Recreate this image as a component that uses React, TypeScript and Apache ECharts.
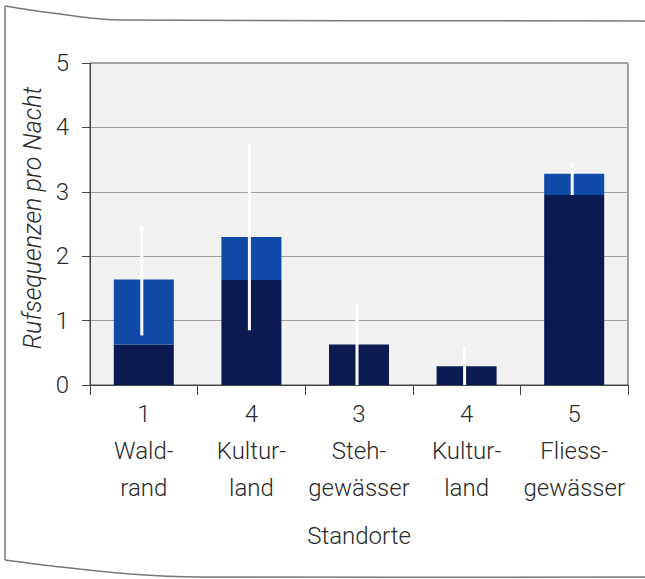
import React, { useEffect, useRef } from "react";
import * as echarts from "echarts";

const siteNumbers = ["1", "4", "3", "4", "5"];
const siteNames = ["Wald-\nrand", "Kultur-\nland", "Steh-\ngewässer", "Kultur-\nland", "Fliess-\ngewässer"];
const lowerSegment = [0.63, 1.63, 0.63, 0.29, 2.95];
const upperSegment = [1.01, 0.67, 0, 0, 0.33];
const errorLow = [0.77, 0.85, 0, 0, 2.95];
const errorHigh = [2.48, 3.75, 1.25, 0.6, 3.45];
const yTicks = [0, 1, 2, 3, 4, 5];

const FONT = "Roboto, 'Liberation Sans', Arial, sans-serif";

export default function App() {
  const ref = useRef<HTMLDivElement>(null);
  useEffect(() => {
    if (!ref.current) return;
    const chart = echarts.init(ref.current, null, { renderer: "svg" });
    const categories = siteNumbers.map((n, i) => n + "\n" + siteNames[i]);
    const errData = errorLow.map((lo, i) => [i, lo, errorHigh[i]]);
    chart.setOption({
      animation: false,
      backgroundColor: "#ffffff",
      textStyle: { fontFamily: FONT },
      grid: {
        left: 90,
        top: 63,
        width: 538,
        height: 322,
        show: true,
        backgroundColor: "#f1f1f1",
        borderColor: "#4a4a4a",
        borderWidth: 1,
      },
      xAxis: {
        type: "category",
        data: categories,
        name: "Standorte",
        nameLocation: "middle",
        nameGap: 139,
        nameTextStyle: { fontSize: 24, color: "#2a2a2a", fontWeight: 300, fontFamily: FONT },
        axisLine: { show: true, lineStyle: { color: "#444444", width: 1 } },
        axisTick: { show: true, length: 10, lineStyle: { color: "#444444" } },
        axisLabel: {
          interval: 0,
          fontSize: 24,
          lineHeight: 37,
          color: "#2a2a2a",
          fontWeight: 300,
          fontFamily: FONT,
          margin: 10,
        },
      },
      yAxis: {
        type: "value",
        min: yTicks[0],
        max: yTicks[yTicks.length - 1],
        interval: 1,
        name: "Rufsequenzen pro Nacht",
        nameLocation: "middle",
        nameGap: 42,
        nameRotate: 90,
        nameTextStyle: {
          fontSize: 25,
          color: "#2a2a2a",
          fontStyle: "italic",
          fontWeight: 300,
          fontFamily: FONT,
          padding: [0, 0, 0, 12],
        },
        axisLine: { show: true, lineStyle: { color: "#444444", width: 1 } },
        axisTick: { show: true, length: 8, lineStyle: { color: "#444444" } },
        axisLabel: { fontSize: 24, color: "#2a2a2a", margin: 21, fontWeight: 300, fontFamily: FONT },
        splitLine: { show: true, lineStyle: { color: "#a89c9c", width: 1 } },
      },
      series: [
        {
          type: "bar",
          stack: "total",
          data: lowerSegment,
          barWidth: 60,
          itemStyle: { color: "#0b1a50" },
        },
        {
          type: "bar",
          stack: "total",
          data: upperSegment,
          barWidth: 60,
          itemStyle: { color: "#0f4aa8" },
        },
        {
          type: "custom",
          data: errData,
          z: 10,
          renderItem: (params: any, api: any) => {
            const i = api.value(0);
            const p1 = api.coord([i, api.value(1)]);
            const p2 = api.coord([i, api.value(2)]);
            return {
              type: "line",
              shape: { x1: p1[0] - 2, y1: p1[1], x2: p2[0] - 2, y2: p2[1] },
              style: { stroke: "#ffffff", lineWidth: 3 },
            };
          },
        },
      ],
      graphic: [
        {
          type: "polyline",
          shape: { points: [[5, 6], [30, 10], [60, 14], [90, 18], [120, 20], [645, 21]], smooth: 0.3 },
          style: { stroke: "#777777", lineWidth: 1.5, fill: "none" },
          silent: true,
        },
        {
          type: "line",
          shape: { x1: 5, y1: 6, x2: 5, y2: 560 },
          style: { stroke: "#777777", lineWidth: 1.5 },
          silent: true,
        },
        {
          type: "polyline",
          shape: { points: [[5, 560], [60, 567], [130, 574], [200, 577], [645, 577]], smooth: 0.3 },
          style: { stroke: "#777777", lineWidth: 1.5, fill: "none" },
          silent: true,
        },
      ],
    });
    return () => chart.dispose();
  }, []);
  return (
    <div
      ref={ref}
      style={{ position: "fixed", left: 0, top: 0, width: 645, height: 579 }}
    />
  );
}
